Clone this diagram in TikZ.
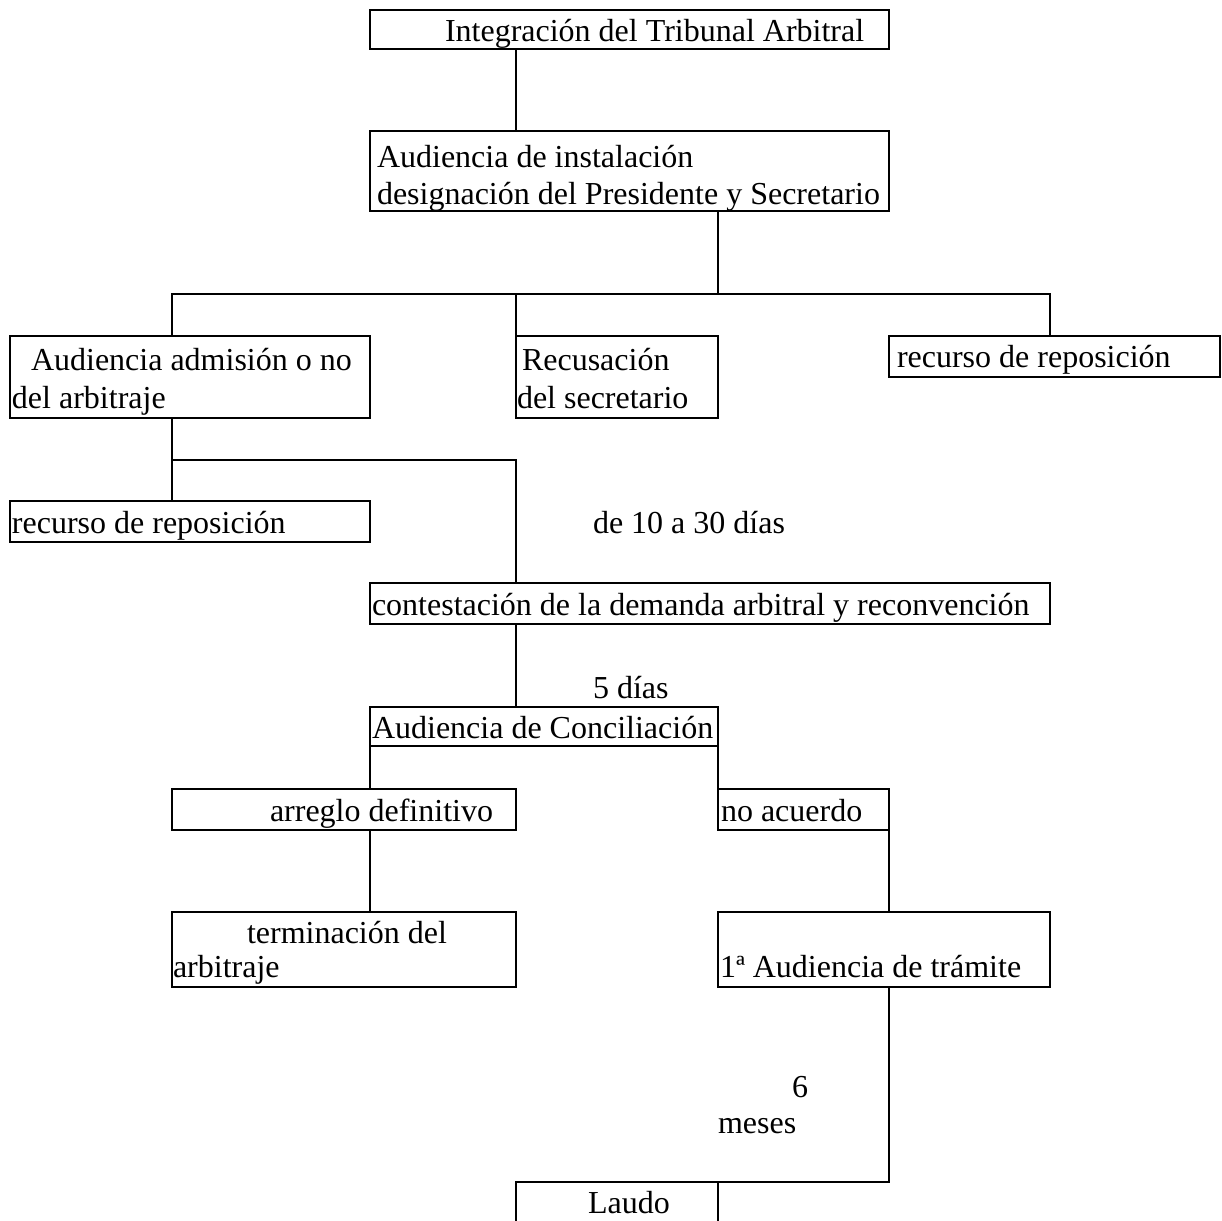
\documentclass[tikz,border=0pt]{standalone}
\usepackage{fontspec}
\setmainfont{Liberation Serif}
\begin{document}
\begin{tikzpicture}[x=1pt,y=-1pt,
  box/.style={draw=black, line width=2pt, anchor=north west, inner sep=0pt, outer sep=0pt},
  txt/.style={anchor=base west, inner sep=0pt, outer sep=0pt, font=\fontsize{32}{37}\selectfont},
  conn/.style={draw=black, line width=2pt}]
\useasboundingbox[fill=white] (0,0) rectangle (1222,1220);
\clip (0,0) rectangle (1222,1220);
% boxes
\node[box, minimum width=519pt, minimum height=39pt] (b1) at (370,10) {};
\node[box, minimum width=519pt, minimum height=80pt] (b2) at (370,131) {};
\node[box, minimum width=360pt, minimum height=82pt] (b3) at (10,336) {};
\node[box, minimum width=202pt, minimum height=82pt] (b4) at (516,336) {};
\node[box, minimum width=331pt, minimum height=41pt] (b5) at (889,336) {};
\node[box, minimum width=360pt, minimum height=41pt] (b6) at (10,501) {};
\node[box, minimum width=680pt, minimum height=41pt] (b7) at (370,583) {};
\node[box, minimum width=348pt, minimum height=39pt] (b8) at (370,707) {};
\node[box, minimum width=344pt, minimum height=41pt] (b9) at (172,789) {};
\node[box, minimum width=171pt, minimum height=41pt] (b10) at (718,789) {};
\node[box, minimum width=344pt, minimum height=75pt] (b11) at (172,912) {};
\node[box, minimum width=332pt, minimum height=75pt] (b12) at (718,912) {};
\node[box, minimum width=202pt, minimum height=70pt] (b13) at (516,1182) {};
% texts
\node[txt] (t1) at (445,42) {Integración del Tribunal Arbitral};
\node[txt] (t2a) at (377,167) {Audiencia de instalación};
\node[txt] (t2b) at (377,204) {designación del Presidente y Secretario};
\node[txt] (t3a) at (31,370) {Audiencia admisión o no};
\node[txt] (t3b) at (12,408) {del arbitraje};
\node[txt] (t4a) at (522,370) {Recusación};
\node[txt] (t4b) at (517,408) {del secretario};
\node[txt] (t5) at (897,367) {recurso de reposición};
\node[txt] (t6) at (12,533) {recurso de reposición};
\node[txt] (l1) at (593,533) {de 10 a 30 días};
\node[txt] (t7) at (372,615) {contestación de la demanda arbitral y reconvención};
\node[txt] (l2) at (593,698) {5 días};
\node[txt] (t8) at (372,738) {Audiencia de Conciliación};
\node[txt] (t9) at (270,821) {arreglo definitivo};
\node[txt] (t10) at (721,821) {no acuerdo};
\node[txt] (t11a) at (247,943) {terminación del};
\node[txt] (t11b) at (173,977) {arbitraje};
\node[txt] (t12) at (720,977) {1ª Audiencia de trámite};
\node[txt] (l3a) at (792,1097) {6};
\node[txt] (l3b) at (718,1133) {meses};
\node[txt] (t13) at (588,1213) {Laudo};
% connector coordinates
\coordinate (busL) at (172,294);
\coordinate (busR) at (1050,294);
\coordinate (br) at (172,460);
% connectors
\draw[conn] (b1.south -| b4.west) -- (b2.north -| b4.west);
\draw[conn] (b2.south -| b4.east) -- (b4.east |- busL);
\draw[conn] (b3.north -| busL) -- (busL) -- (busR) -- (b5.north -| busR);
\draw[conn] (b4.north west) -- (b4.west |- busL);
\draw[conn] (b3.south -| br) -- (b6.north -| br);
\draw[conn] (br) -- (br -| b4.west) -- (b7.north -| b4.west);
\draw[conn] (b7.south -| b4.west) -- (b8.north -| b4.west);
\draw[conn] (b8.south west) -- (b9.north -| b8.west);
\draw[conn] (b8.south east) -- (b10.north west);
\draw[conn] (b9.south -| b8.west) -- (b11.north -| b8.west);
\draw[conn] (b10.south east) -- (b12.north -| b10.east);
\draw[conn] (b12.south -| b10.east) |- (b13.north east);
\end{tikzpicture}
\end{document}
